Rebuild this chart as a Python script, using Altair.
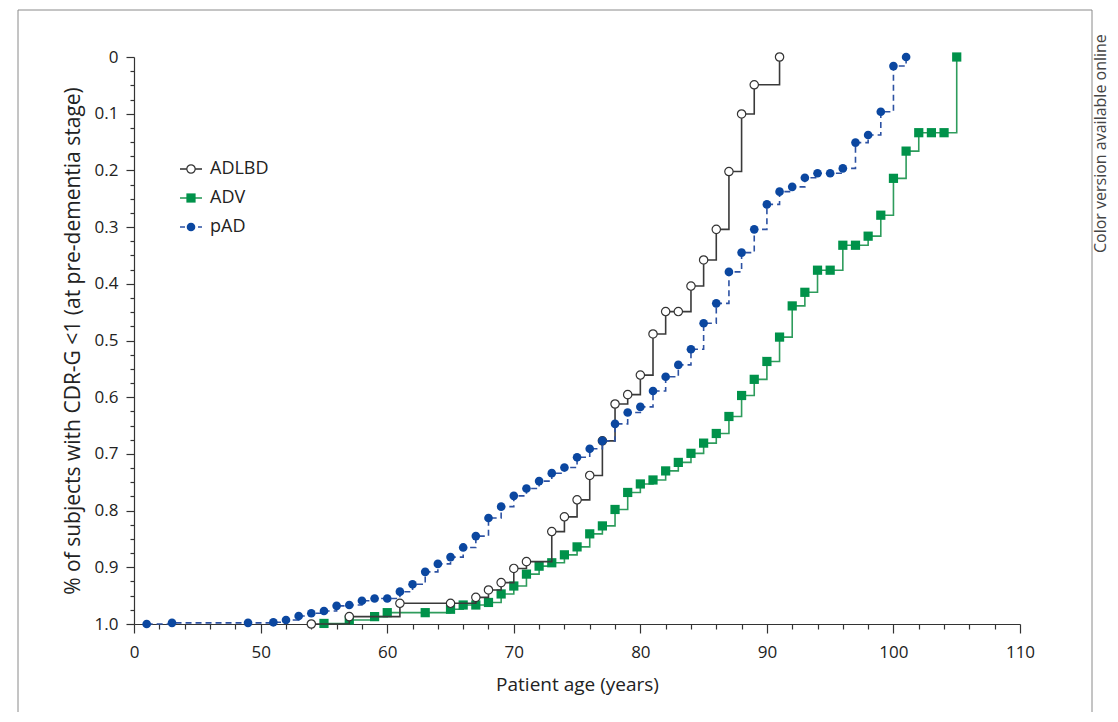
import altair as alt
import pandas as pd

FONT = "Open Sans"

# ---------------- data ----------------
adlbd_age = [54, 57, 61, 65, 67, 68, 69, 70, 71, 73, 74, 75, 76, 77, 78, 79, 80,
             81, 82, 83, 84, 85, 86, 87, 88, 89, 91]
adlbd_val = [1.0, 0.987, 0.9635, 0.9635, 0.953, 0.940, 0.927, 0.902, 0.890, 0.837,
             0.811, 0.781, 0.738, 0.677, 0.612, 0.5955, 0.561, 0.4885, 0.449, 0.449,
             0.404, 0.358, 0.304, 0.202, 0.1005, 0.049, 0.0]

adv_age = [55, 57, 59, 60, 63, 65, 66, 67, 68, 69, 70, 71, 72, 73, 74, 75, 76, 77,
           78, 79, 80, 81, 82, 83, 84, 85, 86, 87, 88, 89, 90, 91, 92, 93, 94, 95,
           96, 97, 98, 99, 100, 101, 102, 103, 104, 105]
adv_val = [0.999, 0.993, 0.987, 0.980, 0.980, 0.974, 0.9665, 0.9665, 0.962, 0.947,
           0.933, 0.912, 0.898, 0.892, 0.878, 0.864, 0.841, 0.827, 0.798, 0.768,
           0.753, 0.746, 0.730, 0.715, 0.699, 0.681, 0.664, 0.634, 0.597, 0.5685,
           0.537, 0.494, 0.439, 0.415, 0.376, 0.376, 0.332, 0.332, 0.316, 0.279,
           0.214, 0.166, 0.1335, 0.1335, 0.1335, 0.0]

pad_age = [5, 15, 45, 51, 52, 53, 54, 55, 56, 57, 58, 59, 60, 61, 62, 63, 64, 65,
           66, 67, 68, 69, 70, 71, 72, 73, 74, 75, 76, 77, 78, 79, 80, 81, 82, 83,
           84, 85, 86, 87, 88, 89, 90, 91, 92, 93, 94, 95, 96, 97, 98, 99, 100, 101]
pad_val = [1.0, 0.998, 0.998, 0.997, 0.993, 0.986, 0.981, 0.977, 0.968, 0.9665,
           0.959, 0.955, 0.955, 0.943, 0.930, 0.908, 0.894, 0.882, 0.865, 0.845,
           0.813, 0.793, 0.774, 0.761, 0.748, 0.734, 0.724, 0.706, 0.691, 0.677,
           0.647, 0.627, 0.617, 0.589, 0.564, 0.543, 0.5155, 0.4695, 0.4345, 0.379,
           0.345, 0.304, 0.260, 0.2375, 0.229, 0.213, 0.205, 0.205, 0.1965, 0.151,
           0.1375, 0.0965, 0.016, 0.0]

series_names = ["ADLBD", "ADV", "pAD"]

x_major = [0, 50, 60, 70, 80, 90, 100, 110]
x_minor = [10, 20, 30, 40] + [v for v in range(52, 110, 2) if v % 10 != 0]
x_ticks = sorted(x_major + x_minor)
y_ticks = [round(i * 0.025, 3) for i in range(41)]

# ---------------- geometry ----------------
W, H = 886, 567
OX, OY = 134, 57  # plot origin in page pixels

x_scale = alt.Scale(domain=[0, 50, 110], range=[0, 126.7, W], nice=False, zero=False)
y_scale = alt.Scale(domain=[0, 1], reverse=True, nice=False, zero=False)

major_x_test = "indexof([0,50,60,70,80,90,100,110], datum.value) >= 0"
major_y_test = "abs(datum.value*10 - round(datum.value*10)) < 0.001"

x_axis = alt.Axis(
    values=x_ticks, title="Patient age (years)", labelOverlap=False, labelFlush=False,
    labelExpr=f"{major_x_test} ? datum.label : ''",
    tickSize={"condition": {"test": major_x_test, "value": 9}, "value": 5},
    labelPadding=11, titlePadding=15, grid=False, labelFontSize=17, titleFontSize=19,
)
y_axis = alt.Axis(
    values=y_ticks, title="% of subjects with CDR-G <1 (at pre-dementia stage)",
    labelOverlap=False, labelFlush=False,
    labelExpr=f"{major_y_test} ? (datum.value == 0 ? '0' : format(datum.value, '.1f')) : ''",
    tickSize={"condition": {"test": major_y_test, "value": 8}, "value": 4},
    labelPadding=8, titlePadding=11, grid=False, labelFontSize=17, titleFontSize=21,
)

def df(ages, vals):
    return pd.DataFrame({"age": ages, "val": vals})

X = alt.X("age:Q", scale=x_scale, axis=x_axis)
Y = alt.Y("val:Q", scale=y_scale, axis=y_axis)

adv_line = alt.Chart(df(adv_age, adv_val)).mark_line(
    interpolate="step-after", color="#2e9c5c", strokeWidth=1.6).encode(x=X, y=Y)
adv_pts = alt.Chart(df(adv_age, adv_val)).mark_point(
    shape="square", filled=True, size=85, color="#00924a", opacity=1).encode(x=X, y=Y)

adlbd_line = alt.Chart(df(adlbd_age, adlbd_val)).mark_line(
    interpolate="step-after", color="#3a3a3a", strokeWidth=1.6).encode(x=X, y=Y)
adlbd_pts = alt.Chart(df(adlbd_age, adlbd_val)).mark_point(
    shape="circle", filled=True, size=70, fill="white", stroke="#333333",
    strokeWidth=1.2, opacity=1).encode(x=X, y=Y)

pad_line = alt.Chart(df(pad_age, pad_val)).mark_line(
    interpolate="step-after", color="#2d52a3", strokeWidth=1.6,
    strokeDash=[6, 4]).encode(x=X, y=Y)
pad_pts = alt.Chart(df(pad_age, pad_val)).mark_point(
    shape="circle", filled=True, size=75, color="#0b47a0", opacity=1).encode(x=X, y=Y)

# ---------------- manual legend ----------------
leg_layers = []
leg_styles = [
    dict(line=dict(color="#3a3a3a"), pt=dict(shape="circle", filled=True, size=70, fill="white",
                                            stroke="#333333", strokeWidth=1.2, opacity=1)),
    dict(line=dict(color="#2e9c5c"), pt=dict(shape="square", filled=True, size=85,
                                            color="#00924a", opacity=1)),
    dict(line=dict(color="#2d52a3", strokeDash=[5, 4]), pt=dict(shape="circle", filled=True,
                                                               size=75, color="#0b47a0", opacity=1)),
]
for i, name in enumerate(series_names):
    ly = 169 - OY + 29 * i
    d = pd.DataFrame({"name": [name]})
    st = leg_styles[i]
    leg_layers.append(alt.Chart(d).mark_rule(strokeWidth=1.6, **st["line"]).encode(
        x=alt.value(180 - OX), x2=alt.value(202 - OX), y=alt.value(ly)))
    leg_layers.append(alt.Chart(d).mark_point(**st["pt"]).encode(
        x=alt.value(191 - OX), y=alt.value(ly)))
    leg_layers.append(alt.Chart(d).mark_text(
        align="left", baseline="middle", fontSize=18, font=FONT, color="#222222").encode(
        x=alt.value(210 - OX), y=alt.value(ly), text="name:N"))

# ---------------- frame and side note ----------------
frame = alt.Chart(pd.DataFrame({"a": [0]})).mark_rect(
    fillOpacity=0, stroke="#8a8a8a", strokeWidth=1).encode(
    x=alt.value(18 - OX), x2=alt.value(1092 - OX), y=alt.value(10 - OY), y2=alt.value(718 - OY))

note = alt.Chart(pd.DataFrame({"t": ["Color version available online"]})).mark_text(
    angle=270, align="left", baseline="middle", fontSize=16, font=FONT, color="#444444").encode(
    x=alt.value(1101 - OX), y=alt.value(253 - OY), text="t:N")

chart = alt.layer(
    frame, adv_line, adv_pts, adlbd_line, adlbd_pts, pad_line, pad_pts, *leg_layers, note
).properties(
    width=W, height=H,
    autosize=alt.AutoSizeParams(type="none"),
    padding={"left": OX - 8, "top": OY - 8, "right": 90, "bottom": 88},
).configure_view(stroke=None).configure_axis(
    domainColor="#333333", tickColor="#333333", labelColor="#222222",
    titleColor="#222222", labelFont=FONT, titleFont=FONT,
    titleFontWeight="normal", domainWidth=1.2, tickWidth=1.2,
)

chart.save("out.html", embed_options={"renderer": "svg", "actions": False})
